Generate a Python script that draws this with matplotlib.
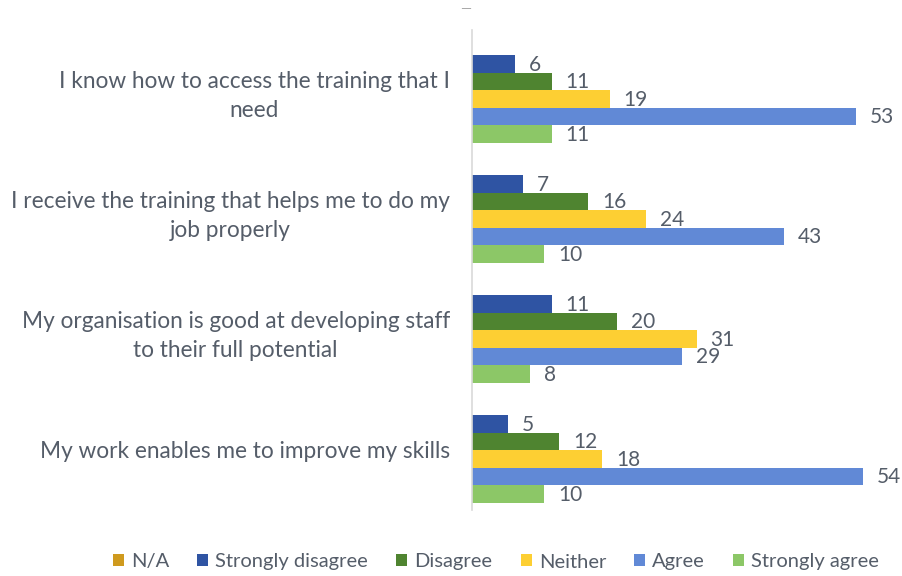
import matplotlib
matplotlib.use("Agg")
import matplotlib.pyplot as plt
import numpy as np

plt.rcParams['font.family'] = ['Lato', 'DejaVu Sans']

statements = [
    "I know how to access the training that I\nneed",
    "I receive the training that helps me to do my\njob properly",
    "My organisation is good at developing staff\nto their full potential",
    "My work enables me to improve my skills",
]
responses = ["N/A", "Strongly disagree", "Disagree", "Neither", "Agree", "Strongly agree"]
na_vals = [0, 0, 0, 0]
strongly_disagree = [6, 7, 11, 5]
disagree = [11, 16, 20, 12]
neither = [19, 24, 31, 18]
agree = [53, 43, 29, 54]
strongly_agree = [11, 10, 8, 10]

series = [na_vals, strongly_disagree, disagree, neither, agree, strongly_agree]
colours = ["#CF9A1E", "#2F54A3", "#4F8430", "#FDCF33", "#6189D6", "#8CC767"]
text_grey = "#555D69"

fig = plt.figure(figsize=(9.03, 5.76), dpi=100)
ax = fig.add_axes((472 / 903, 66 / 576, 431 / 903, 480 / 576))

n_series = len(series)
group_h = 0.875
bar_h = group_h / n_series
ypos = np.arange(len(statements))

for i, (vals, col) in enumerate(zip(series, colours)):
    y = ypos - group_h / 2 + bar_h * (i + 0.5)
    ax.barh(y, vals, height=bar_h, color=col, label=responses[i])
    if i == 0:
        continue
    for yy, v in zip(y, vals):
        ax.text(v + 1.9, yy + 0.01, str(v), va='center', ha='left',
                fontsize=15, color=text_grey)

ax.set_xlim(0, 431 / 7.25)
ax.set_ylim(len(statements) - 0.5, -0.5)
ax.set_yticks(ypos)
ax.set_yticklabels(statements, fontsize=16.3, color=text_grey, ha='right',
                   multialignment='center', linespacing=1.45)
ax.tick_params(axis='y', length=0, pad=16)
ax.set_xticks([])
for side in ['top', 'right', 'bottom']:
    ax.spines[side].set_visible(False)
ax.spines['left'].set_color('#D9D9D9')
ax.spines['left'].set_linewidth(1.2)

fig.text(466 / 903, 1 - 9 / 576, "—", ha='center', va='center',
         fontsize=10, color='#A6A6A6')

fig.legend(loc='center', bbox_to_anchor=(496 / 903, 1 - 562 / 576), ncol=6,
           frameon=False, fontsize=14.5, handlelength=0.55, handleheight=0.55,
           handletextpad=0.35, columnspacing=1.4, labelcolor=text_grey)

fig.savefig("out.png", dpi=100)
